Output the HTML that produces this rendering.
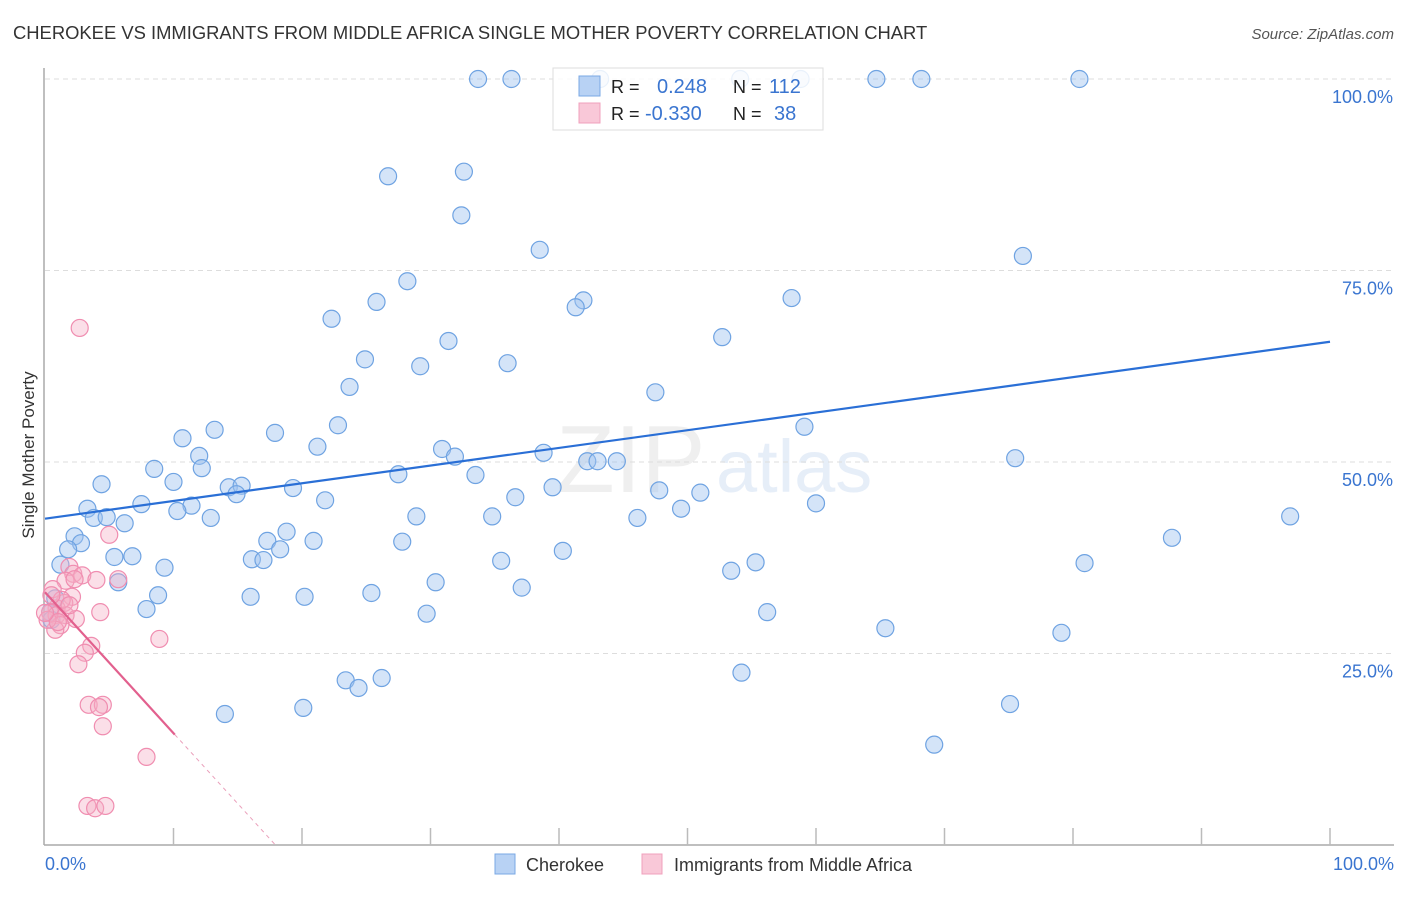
<!DOCTYPE html>
<html><head><meta charset="utf-8"><style>
body{margin:0;background:#fff;font-family:"Liberation Sans",sans-serif}
svg text{font-family:"Liberation Sans",sans-serif}
</style></head><body>
<svg width="1406" height="892" viewBox="0 0 1406 892">
<text x="13" y="39" font-size="18.4" fill="#333">CHEROKEE VS IMMIGRANTS FROM MIDDLE AFRICA SINGLE MOTHER POVERTY CORRELATION CHART</text>
<text x="1394" y="39" font-size="15" fill="#555" font-style="italic" text-anchor="end">Source: ZipAtlas.com</text>
<g opacity="0.13">
<text x="556" y="492" font-size="96" font-family="Liberation Serif" fill="#888">ZIP</text>
<text x="716" y="492" font-size="74" fill="#4a80d0">atlas</text>
</g>
<g id="grid"></g>
<g id="axes"></g>
<g id="pts"></g>
<g id="trend"></g>
<text transform="translate(34,455) rotate(-90)" font-size="17" fill="#333" text-anchor="middle">Single Mother Poverty</text>
<g>
<rect x="553" y="68" width="270" height="62" fill="rgba(255,255,255,0.85)" stroke="#ddd"/>
<rect x="579" y="76" width="21" height="20" fill="#b8d2f4" stroke="#7aa8e4"/>
<rect x="579" y="103" width="21" height="20" fill="#f9c8d8" stroke="#f0a0bc"/>
<text x="611" y="93" font-size="18" fill="#222">R =</text>
<text x="657" y="93" font-size="20" fill="#3a75d0">0.248</text>
<text x="733" y="93" font-size="18" fill="#222">N =</text>
<text x="769" y="93" font-size="20" fill="#3a75d0">112</text>
<text x="611" y="120" font-size="18" fill="#222">R =</text>
<text x="645" y="120" font-size="20" fill="#3a75d0">-0.330</text>
<text x="733" y="120" font-size="18" fill="#222">N =</text>
<text x="774" y="120" font-size="20" fill="#3a75d0">38</text>
</g>
<g>
<rect x="495" y="854" width="20" height="20" fill="#b8d2f4" stroke="#7aa8e4"/>
<text x="526" y="871" font-size="18" fill="#333">Cherokee</text>
<rect x="642" y="854" width="20" height="20" fill="#f9c8d8" stroke="#f0a0bc"/>
<text x="674" y="871" font-size="18" fill="#333">Immigrants from Middle Africa</text>
</g>
</svg>
<script>
const yTicks=[25,50,75,100];
const yTickLabels=["25.0%","50.0%","75.0%","100.0%"];
const xTickLabels=["0.0%","100.0%"];
const blueX=[33.7,36.3,43.2,54.1,58.8,64.7,68.2,80.5,26.7,32.6,32.4,38.5,76.1,28.2,25.8,41.9,41.3,58.1,22.3,31.4,52.7,24.9,29.2,36.0,23.7,47.5,22.8,59.1,13.2,10.7,17.9,21.2,30.9,31.9,12.0,38.8,12.2,42.2,43.0,44.5,75.5,8.5,10.0,27.5,33.5,4.4,14.3,15.3,19.3,14.9,39.5,47.8,51.0,36.6,21.8,7.5,3.3,11.4,10.3,60.0,49.5,3.8,4.8,6.2,12.9,28.9,34.8,46.1,96.9,2.3,2.8,1.8,18.8,17.3,20.9,27.8,18.3,87.7,5.4,6.8,16.1,17.0,40.3,35.5,55.3,1.2,9.3,53.4,80.9,30.4,5.7,37.1,25.4,8.8,16.0,20.2,7.9,56.2,29.7,65.4,79.1,23.4,26.2,24.4,54.2,20.1,14.0,75.1,69.2,0.8,0.4,0.5];
const blueY=[100,100,100,100,100,100,100,100,87.3,87.9,82.2,77.7,76.9,73.6,70.9,71.1,70.2,71.4,68.7,65.8,66.3,63.4,62.5,62.9,59.8,59.1,54.8,54.6,54.2,53.1,53.8,52.0,51.7,50.7,50.8,51.2,49.2,50.1,50.1,50.1,50.5,49.1,47.4,48.4,48.3,47.1,46.7,46.9,46.6,45.8,46.7,46.3,46.0,45.4,45.0,44.5,43.9,44.3,43.6,44.6,43.9,42.7,42.8,42.0,42.7,42.9,42.9,42.7,42.9,40.3,39.4,38.6,40.9,39.7,39.7,39.6,38.6,40.1,37.6,37.7,37.3,37.2,38.4,37.1,36.9,36.6,36.2,35.8,36.8,34.3,34.3,33.6,32.9,32.6,32.4,32.4,30.8,30.4,30.2,28.3,27.7,21.5,21.8,20.5,22.5,17.9,17.1,18.4,13.1,32.2,30.4,29.4];
const pinkX=[2.7,5.0,1.9,2.2,2.9,5.7,4.0,1.6,2.3,0.6,2.1,1.5,0.9,0.4,0.9,1.6,2.4,1.2,0.8,4.3,8.9,3.6,3.1,2.6,3.4,4.5,4.2,4.5,7.9,3.3,3.9,4.7,1.3,0.2,1.0,0,0.5,1.9];
const pinkY=[67.5,40.5,36.3,35.4,35.2,34.7,34.6,34.5,34.7,33.4,32.4,31.6,30.9,30.3,30.0,30.0,29.5,28.7,28.1,30.4,26.9,26.0,25.1,23.6,18.3,18.3,18.0,15.5,11.5,5.1,4.8,5.1,32.0,29.4,29.1,30.3,32.6,31.3];
const blueTrend=[42.6,65.7];
const pinkTrend=[33.0,-1.84];
const X=v=>45+v*12.85, Y=v=>845-v*7.66;
const NS="http://www.w3.org/2000/svg";
function mk(t,a,p){const e=document.createElementNS(NS,t);for(const k in a)e.setAttribute(k,a[k]);p.appendChild(e);return e;}
const grid=document.getElementById('grid'),axes=document.getElementById('axes'),pts=document.getElementById('pts'),tr=document.getElementById('trend');
yTicks.forEach((v,i)=>{
 const l=mk('line',{x1:45,x2:1394,y1:Y(v),y2:Y(v),stroke:'#ddd','stroke-dasharray':'5,4'},grid);
 
 
 const t=mk('text',{x:1393,y:Y(v)+24,'font-size':18,fill:'#3a75d0','text-anchor':'end'},grid);
 t.textContent=yTickLabels[i];
 
 
});
const ax=mk('line',{x1:44,x2:44,y1:68,y2:845,stroke:'#aaa','stroke-width':1.5},axes);


const bx=mk('line',{x1:44,x2:1394,y1:845,y2:845,stroke:'#aaa','stroke-width':1.5},axes);


for(let i=1;i<=10;i++){const tk=mk('line',{x1:X(i*10),x2:X(i*10),y1:828,y2:845,stroke:'#bbb','stroke-width':1.5},axes);
 
 }
const t0=mk('text',{x:45,y:870,'font-size':18,fill:'#3a75d0'},axes);t0.textContent=xTickLabels[0];


const t1=mk('text',{x:1394,y:870,'font-size':18,fill:'#3a75d0','text-anchor':'end'},axes);t1.textContent=xTickLabels[1];


blueX.forEach((x,i)=>{const c=mk('circle',{cx:X(x),cy:Y(blueY[i]),r:8.5,fill:'rgba(160,196,240,0.45)',stroke:'#6fa3e2','stroke-width':1.2},pts);
 
 });
pinkX.forEach((x,i)=>{const c=mk('circle',{cx:X(x),cy:Y(pinkY[i]),r:8.5,fill:'rgba(245,175,198,0.4)',stroke:'#f08db0','stroke-width':1.2},pts);
 
 });
const bl=mk('line',{x1:X(0),y1:Y(blueTrend[0]),x2:X(100),y2:Y(blueTrend[1]),stroke:'#2a6fd6','stroke-width':2.2},tr);


const pe=10.1,pz=-pinkTrend[0]/pinkTrend[1];
const pl=mk('line',{x1:X(0),y1:Y(pinkTrend[0]),x2:X(pe),y2:Y(pinkTrend[0]+pinkTrend[1]*pe),stroke:'#e2608e','stroke-width':2.2},tr);


const pd=mk('line',{x1:X(pe),y1:Y(pinkTrend[0]+pinkTrend[1]*pe),x2:X(pz),y2:Y(0),stroke:'#eaa0bb','stroke-width':1,'stroke-dasharray':'4,4'},tr);


</script>
</body></html>
